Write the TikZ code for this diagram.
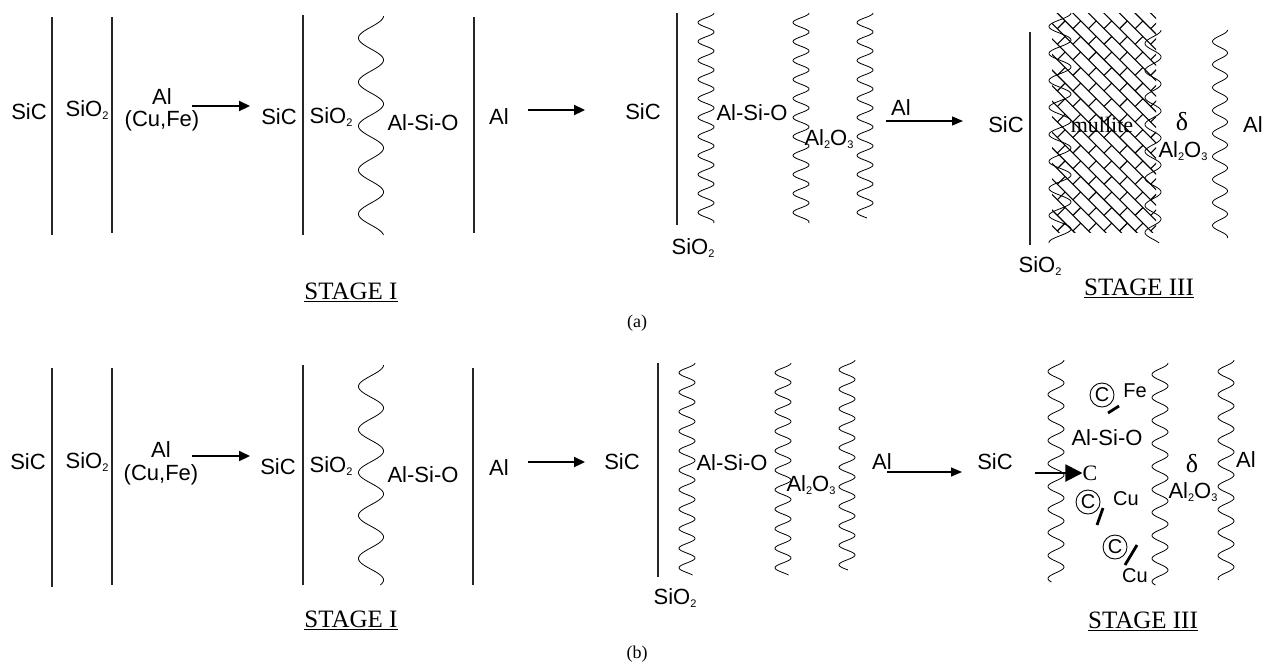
\documentclass[tikz,border=0pt]{standalone}
\usepackage{fontspec}
\setmainfont{Liberation Serif}
\setsansfont{Liberation Sans}
\usetikzlibrary{arrows.meta}
\newcommand{\wavy}[6]{%
  \pgfmathsetmacro{\wlen}{#3-#2}%
  \draw[wavestyle] plot[variable=\t, domain=0:\wlen, samples=260] ({#1+#4*cos(\t/#5*360+#6)},{#2+\t});}
\newcommand{\sbs}[1]{\raisebox{-0.3ex}{\fontsize{11}{11}\selectfont #1}}
\tikzset{
  lab/.style={font=\sffamily\fontsize{22}{25}\selectfont, inner sep=0pt},
  smlab/.style={font=\sffamily\fontsize{20}{22}\selectfont, inner sep=0pt},
  stg/.style={font=\rmfamily\fontsize{25}{28}\selectfont, inner sep=0pt},
  captxt/.style={font=\rmfamily\fontsize{18}{20}\selectfont, inner sep=0pt},
  layerline/.style={line width=1.1pt, black!85},
  wavestyle/.style={line width=0.8pt},
  hatchline/.style={line width=1.1pt},
  arr/.style={line width=2.2pt, -{Triangle[length=11pt,width=10pt]}},
  arrthin/.style={line width=1.3pt, -{Triangle[length=11pt,width=9pt]}},
  arrbig/.style={line width=2pt, -{Triangle[length=17pt,width=17pt]}},
  circC/.style={circle, draw, line width=0.9pt, inner sep=0pt, minimum size=24pt, font=\sffamily\fontsize{20}{20}\selectfont},
  tickline/.style={line width=2.8pt},
}
\begin{document}
\begin{tikzpicture}[x=1pt,y=-1pt]
\useasboundingbox[fill=white] (0,0) rectangle (1273,665);

% ================= ROW (a) =================
\node[lab] (aSiC1) at (29,112) {SiC};
\coordinate (aL1t) at (52,17); \coordinate (aL1b) at (52,235);
\draw[layerline] (aL1t) -- (aL1b);
\node[lab] (aSiO1) at (87,110) {SiO\sbs{2}};
\coordinate (aL2t) at (112,17); \coordinate (aL2b) at (112,233);
\draw[layerline] (aL2t) -- (aL2b);
\node[lab] (aAl1) at (162,97) {Al};
\node[lab] (aCuFe) at (162,121) {(Cu,Fe)};
\coordinate (aA1s) at (192,106); \coordinate (aA1e) at (250,106);
\draw[arr] (aA1s) -- (aA1e);
% stage I
\node[lab] (aSiC2) at (279,117) {SiC};
\coordinate (aL3t) at (303,15); \coordinate (aL3b) at (303,235);
\draw[layerline] (aL3t) -- (aL3b);
\node[lab] (aSiO2) at (331,117) {SiO\sbs{2}};
\wavy{371}{16}{235}{12.5}{44}{0}
\node[lab] (aASO1) at (423,123) {Al-Si-O};
\coordinate (aL4t) at (474,17); \coordinate (aL4b) at (474,233);
\draw[layerline] (aL4t) -- (aL4b);
\node[lab] (aAl2) at (499,117) {Al};
\coordinate (aA2s) at (528,110); \coordinate (aA2e) at (585,110);
\draw[arr] (aA2s) -- (aA2e);
\node[stg] (aStg1) at (351,292) {\underline{STAGE I}};
% stage II
\node[lab] (aSiC3) at (643,112) {SiC};
\coordinate (aL5t) at (677,13); \coordinate (aL5b) at (677,225);
\draw[layerline] (aL5t) -- (aL5b);
\node[lab] (aSiO3) at (693,248) {SiO\sbs{2}};
\wavy{706}{13}{223}{8}{19}{0}
\node[lab] (aASO2) at (752,113) {Al-Si-O};
\wavy{801}{13}{223}{8}{19}{0}
\node[lab] (aAlO1) at (829,139) {Al\sbs{2}O\sbs{3}};
\wavy{865}{13}{218}{8}{19}{0}
\node[lab] (aAl3) at (901,108) {Al};
\coordinate (aA3s) at (886,121); \coordinate (aA3e) at (963,121);
\draw[arrthin] (aA3s) -- (aA3e);
% stage III
\node[lab] (aSiC4) at (1006,125) {SiC};
\coordinate (aL6t) at (1030,32); \coordinate (aL6b) at (1030,245);
\draw[layerline] (aL6t) -- (aL6b);
\node[lab] (aSiO4) at (1040,266) {SiO\sbs{2}};
\begin{scope}
  \clip (1052,13) rectangle (1156,232);
  \begin{scope}[shift={(1104,122)}, x={(0.7071pt,-0.7071pt)}, y={(0.7071pt,0.7071pt)}]
    \foreach \k in {-13,...,13} {
      \draw[hatchline] (-135,\k*11) -- (135,\k*11);
      \pgfmathsetmacro{\off}{mod(\k+100,2)*11}
      \foreach \j in {-8,...,8} \draw[hatchline] (\j*22+\off,\k*11) -- (\j*22+\off,\k*11+11);
    }
  \end{scope}
\end{scope}
\wavy{1060}{13}{243}{11}{27}{0}
\wavy{1153}{30}{243}{8}{27}{0}
\node[font=\rmfamily\fontsize{22}{24}\selectfont, inner sep=0pt] (aMul) at (1102,125) {mullite};
\node[font=\rmfamily\fontsize{26}{28}\selectfont, inner sep=0pt] (aDel) at (1182,122) {δ};
\node[lab] (aAlO2) at (1183,151) {Al\sbs{2}O\sbs{3}};
\wavy{1220}{30}{238}{7.5}{23}{0}
\node[lab] (aAl4) at (1253,125) {Al};
\node[stg] (aStg3) at (1139,288) {\underline{STAGE III}};
\node[captxt] (capA) at (637,323) {(a)};

% ================= ROW (b) =================
\node[lab] (bSiC1) at (28,462) {SiC};
\coordinate (bL1t) at (52,368); \coordinate (bL1b) at (52,587);
\draw[layerline] (bL1t) -- (bL1b);
\node[lab] (bSiO1) at (87,462) {SiO\sbs{2}};
\coordinate (bL2t) at (112,368); \coordinate (bL2b) at (112,585);
\draw[layerline] (bL2t) -- (bL2b);
\node[lab] (bAl1) at (161,450) {Al};
\node[lab] (bCuFe) at (161,475) {(Cu,Fe)};
\coordinate (bA1s) at (192,456); \coordinate (bA1e) at (250,456);
\draw[arr] (bA1s) -- (bA1e);
\node[lab] (bSiC2) at (278,467) {SiC};
\coordinate (bL3t) at (303,365); \coordinate (bL3b) at (303,585);
\draw[layerline] (bL3t) -- (bL3b);
\node[lab] (bSiO2) at (331,466) {SiO\sbs{2}};
\wavy{371}{365}{585}{12.5}{43}{0}
\node[lab] (bASO1) at (423,475) {Al-Si-O};
\coordinate (bL4t) at (473,368); \coordinate (bL4b) at (473,585);
\draw[layerline] (bL4t) -- (bL4b);
\node[lab] (bAl2) at (499,468) {Al};
\coordinate (bA2s) at (528,462); \coordinate (bA2e) at (585,462);
\draw[arr] (bA2s) -- (bA2e);
\node[stg] (bStg1) at (351,620) {\underline{STAGE I}};
% stage II
\node[lab] (bSiC3) at (622,462) {SiC};
\coordinate (bL5t) at (658,363); \coordinate (bL5b) at (658,577);
\draw[layerline] (bL5t) -- (bL5b);
\node[lab] (bSiO3) at (675,598) {SiO\sbs{2}};
\wavy{687}{363}{575}{8}{19.5}{0}
\node[lab] (bASO2) at (732,463) {Al-Si-O};
\wavy{783}{363}{575}{8}{19.5}{0}
\node[lab] (bAlO1) at (811,485) {Al\sbs{2}O\sbs{3}};
\wavy{847}{360}{570}{8}{19.5}{0}
\node[lab] (bAl3) at (882,462) {Al};
\coordinate (bA3s) at (887,472); \coordinate (bA3e) at (962,472);
\draw[arrthin] (bA3s) -- (bA3e);
% stage III
\node[lab] (bSiC4) at (995,462) {SiC};
\wavy{1056}{360}{582}{8}{23}{0}
\node[font=\rmfamily\fontsize{22}{24}\selectfont, inner sep=0pt] (bC) at (1090,473) {C};
\coordinate (bA4s) at (1035,473);
\draw[arrbig] (bA4s) -- (bC.west);
\node[circC] (c1) at (1102,395) {C};
\draw[tickline] (1108,413) -- (1119,406);
\node[smlab] (bFe) at (1135,391) {Fe};
\node[lab] (bASO3) at (1107,438) {Al-Si-O};
\node[circC] (c2) at (1088,502) {C};
\draw[tickline] (1103,508) -- (1097,525);
\node[smlab] (bCu1) at (1126,499) {Cu};
\node[circC] (c3) at (1115,547) {C};
\draw[tickline] (1137,545) -- (1125,565);
\node[smlab] (bCu2) at (1135,576) {Cu};
\wavy{1160}{363}{585}{8}{23}{0}
\node[font=\rmfamily\fontsize{26}{28}\selectfont, inner sep=0pt] (bDel) at (1192,464) {δ};
\node[lab] (bAlO2) at (1193,492) {Al\sbs{2}O\sbs{3}};
\wavy{1226}{360}{580}{8}{23}{0}
\node[lab] (bAl4) at (1246,460) {Al};
\node[stg] (bStg3) at (1143,621) {\underline{STAGE III}};
\node[captxt] (capB) at (637,654) {(b)};
\end{tikzpicture}
\end{document}
